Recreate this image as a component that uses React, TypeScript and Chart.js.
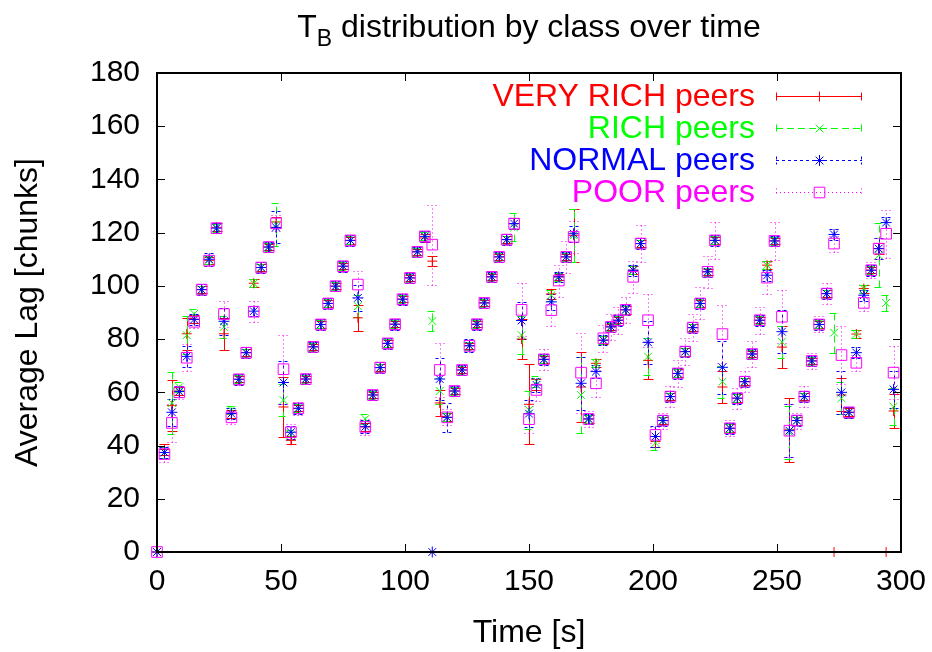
import React, { useEffect, useRef } from "react";
import { Chart, registerables } from "chart.js";

Chart.register(...registerables);

const FONT = '"Liberation Sans", Arial, Helvetica, sans-serif';

// Time axis (s)
const times = [0,3,6,9,12,15,18,21,24,27,30,33,36,39,42,45,48,51,54,57,60,63,66,69,72,75,78,81,84,87,90,93,96,99,102,105,108,111,114,117,120,123,126,129,132,135,138,141,144,147,150,153,156,159,162,165,168,171,174,177,180,183,186,189,192,195,198,201,204,207,210,213,216,219,222,225,228,231,234,237,240,243,246,249,252,255,258,261,264,267,270,273,276,279,282,285,288,291,294,297];

// Average lag per class
const veryRich = [
  0, 38.5, 55, 60.5, 82, 87.5, 98.6, 109.6, 122, 82,
  52, 64.9, 74.9, 101, 106.9, 114.6, 124, 54.5, 42, 54,
  65, 77.1, 85.5, 93.4, 99.9, 107.4, 117.1, 88, 47, 59,
  69.3, 78.4, 85.6, 95, 103, 112.8, 118, 109.3, 56, 50.6,
  60.5, 68.4, 77.5, 85.6, 93.6, 103.4, 110.9, 117.4, 123.4, 80,
  55.5, 63, 72.4, 97, 103.4, 110.9, 119, 62, 50, 70.9,
  79.6, 84.6, 87.1, 91, 105.9, 115.9, 72, 41.5, 49.4, 58.4,
  67.1, 75.3, 84.3, 93.4, 105.3, 117.1, 62, 46.5, 57.8, 64,
  74.4, 87.1, 107.8, 116.9, 77, 45.9, 49.4, 58.4, 71.8, 85.5,
  97.1, 0, 59, 52.5, 81.9, 99, 105.9, 114, 0, 53,
];
const rich = [
  0, 37.5, 56, 62, 81.5, 89.5, 98.6, 109.8, 121.7, 84.6,
  53.4, 64.9, 74.9, 101, 106.9, 114.6, 123, 57.1, 44, 54,
  65, 77.1, 85.5, 93.4, 99.9, 107.4, 117.1, 92.4, 50, 59,
  69.3, 78.4, 85.6, 95, 103, 112.8, 118.6, 86.8, 60.5, 50.6,
  60.5, 68.4, 77.5, 85.6, 93.6, 103.4, 110.9, 117.4, 122, 81.5,
  53.4, 64, 72.4, 96.5, 103.4, 110.9, 119, 59, 50, 70.9,
  79.6, 84.6, 87.1, 91, 105.9, 115.9, 73.4, 41, 49.4, 58.4,
  67.1, 75.3, 84.3, 93.4, 105.3, 117.1, 64, 46.5, 57.8, 64,
  74.4, 87.1, 107.8, 116.9, 79, 45, 49.4, 58.4, 71.8, 85.5,
  97.1, 82.4, 57.8, 52.5, 81.9, 99, 105.9, 111.5, 93.6, 54.6,
];
const normal = [
  0, 37.4, 52.5, 60.3, 73.5, 87.4, 98.6, 110, 121.7, 86.7,
  52, 64.9, 74.9, 90.5, 106.9, 114.6, 122, 63.7, 45, 54,
  65, 77.1, 85.5, 93.4, 99.9, 107.4, 117.1, 95.5, 47.1, 59,
  69.3, 78.4, 85.6, 95, 103, 112.8, 118.6, 0, 65, 50.6,
  60.5, 68.4, 77.5, 85.6, 93.6, 103.4, 110.9, 117.4, 123.4, 87,
  52, 62.8, 72.4, 94, 103.4, 110.9, 119.6, 63.4, 50, 67.8,
  79.6, 84.6, 87.1, 91, 105.9, 115.9, 78.8, 43.4, 49.4, 58.4,
  67.1, 75.3, 84.3, 93.4, 105.3, 117.1, 69.4, 46.5, 57.8, 64,
  74.4, 87.1, 104, 116.9, 82.8, 45.6, 49.4, 58.4, 71.8, 85.5,
  97.1, 119.3, 60, 52.5, 74.9, 96.5, 105.9, 114, 123.8, 61.1,
];
const poor = [
  0, 36.8, 48.5, 60, 73, 86.5, 98.6, 109.5, 121.7, 89.4,
  50.6, 64.9, 74.9, 90.3, 106.9, 114.6, 123.5, 68.7, 45, 54,
  65, 77.1, 85.5, 93.4, 99.9, 107.4, 117.1, 100.5, 47, 59,
  69.3, 78.4, 85.6, 95, 103, 112.8, 118.6, 115.5, 68.4, 50.6,
  60.5, 68.4, 77.5, 85.6, 93.6, 103.4, 110.9, 117.4, 123.4, 91,
  49.9, 60.9, 72.4, 90.9, 102, 110.9, 118.4, 67.4, 50, 63.4,
  80.3, 84.6, 87.1, 91, 103.4, 115.9, 87.1, 44, 49.4, 58.4,
  67.1, 75.3, 84.3, 93.4, 105.3, 117.1, 81.9, 46.5, 57.8, 64,
  74.4, 87.1, 103.1, 116.9, 88.4, 45.6, 49.4, 58.4, 71.8, 85.5,
  97.1, 115.9, 74, 52.5, 71.1, 93.6, 105.9, 114, 119.6, 67.4,
];

// Error bar half-widths per class
const veryRichErr = [
  0, 2, 9.7, 1.5, 6, 1.5, 1.2, 1.2, 1.5, 6,
  1.5, 1.2, 1.2, 1.5, 1.2, 1.2, 2, 11.4, 1.5, 1.2,
  1.2, 1.2, 1.2, 1.2, 1.2, 1.2, 1.2, 5, 1.5, 1.2,
  1.2, 1.2, 1.2, 1.2, 1.2, 1.2, 1.5, 2, 5, 1.5,
  1.2, 1.2, 1.2, 1.2, 1.2, 1.2, 1.2, 1.2, 2, 7.6,
  15, 2, 1.2, 2, 1.2, 1.2, 10, 13, 1.5, 1.5,
  1.5, 1.2, 1.2, 1.5, 1.5, 1.2, 7, 2, 1.2, 1.2,
  1.5, 1.5, 1.2, 1.2, 1.2, 1.2, 6, 1.5, 1.5, 1.2,
  1.2, 1.2, 1.5, 1.2, 7.8, 11.9, 1.5, 1.2, 1.2, 1.2,
  1.2, 0, 6.2, 1.5, 1.5, 1.5, 1.2, 2, 0, 6.5,
];
const richErr = [
  0, 2, 11.5, 2, 7, 2, 1.5, 1.5, 1.5, 4,
  1.5, 1.5, 1.5, 1.5, 1.5, 1.5, 8, 6, 2, 1.5,
  1.5, 1.5, 1.5, 1.5, 1.5, 1.5, 1.5, 4, 2, 1.5,
  1.5, 1.5, 1.5, 1.5, 1.5, 1.5, 1.5, 3.6, 5, 1.5,
  1.5, 1.5, 1.5, 1.5, 1.5, 1.5, 1.5, 1.5, 5.3, 7,
  7, 2, 1.5, 2, 1.5, 1.5, 10, 14.4, 1.5, 1.5,
  1.5, 1.5, 1.5, 1.5, 1.5, 1.5, 7, 2.5, 1.5, 1.5,
  1.5, 1.5, 1.5, 1.5, 1.5, 1.5, 6, 1.5, 1.5, 1.5,
  1.5, 1.5, 1.5, 1.5, 6, 10, 1.5, 1.5, 1.5, 1.5,
  1.5, 7.6, 6, 2, 1.5, 1.5, 1.5, 12, 3, 7,
];
const normalErr = [
  0, 2, 5, 2, 4, 2, 2, 2.5, 2, 5,
  2, 2, 2, 2, 2, 2, 6, 8, 2.5, 2,
  2, 2, 2, 2, 2, 2, 2, 5, 2.5, 2,
  2, 2, 2, 2, 2, 2, 2, 0, 8, 5.5,
  2, 2, 2.5, 2, 2, 2, 2, 2, 2, 7,
  5, 2.5, 2, 3, 2, 2, 3, 10, 2, 2.5,
  2, 2, 2, 2, 2, 2, 8, 4, 2, 2,
  2, 2, 2, 2, 2, 2, 10, 2, 2, 2,
  2, 2, 2, 2, 8, 10, 2, 2, 2, 2,
  2, 2, 8, 2, 2, 2, 2, 4, 2, 7,
];
const poorErr = [
  0, 3, 7, 2.5, 5, 2.5, 2, 2, 2, 5,
  2.5, 2, 2, 4, 2, 2, 3, 13, 3, 2.5,
  2, 2, 2, 2, 2, 2, 2, 5, 3, 2,
  2, 2, 2, 2, 2, 2, 2, 15, 10, 3,
  2, 2, 2, 2, 2, 2, 2, 2, 2, 10,
  5, 4, 4, 6, 6, 6, 6, 15, 3, 5,
  5, 5, 5, 5, 6, 7, 10, 3, 3, 4,
  5, 5, 5, 6, 6, 7, 11, 3, 4, 4,
  5, 5, 6, 7, 10, 10, 3, 4, 3, 3,
  4, 3, 11, 2, 3, 3, 3, 4, 9, 10,
];

const xTicks = [0, 50, 100, 150, 200, 250, 300];
const yTicks = [0, 20, 40, 60, 80, 100, 120, 140, 160, 180];

const seriesNames = ["VERY RICH peers", "RICH peers", "NORMAL peers", "POOR peers"];
const seriesColors = ["#ff0000", "#00ff00", "#0000ff", "#ff00ff"];
const seriesValues = [veryRich, rich, normal, poor];
const seriesErrors = [veryRichErr, richErr, normalErr, poorErr];
const seriesMarkers = ["cross", "crossRot", "star", "rect"];
const seriesDashes = [[], [7, 4], [3, 3], [1, 3]];
const seriesRadius = [5, 5.5, 5.5, 7.5];

const titleMain = "T";
const titleSub = "B";
const titleRest = " distribution by class over time";
const xTitle = "Time [s]";
const yTitle = "Average Lag [chunks]";

function drawMarker(ctx: CanvasRenderingContext2D, style: string, x: number, y: number, r: number) {
  ctx.beginPath();
  if (style === "cross" || style === "star") {
    ctx.moveTo(x - r, y); ctx.lineTo(x + r, y);
    ctx.moveTo(x, y - r); ctx.lineTo(x, y + r);
  }
  if (style === "crossRot" || style === "star") {
    const d = r * Math.SQRT1_2;
    ctx.moveTo(x - d, y - d); ctx.lineTo(x + d, y + d);
    ctx.moveTo(x - d, y + d); ctx.lineTo(x + d, y - d);
  }
  if (style === "rect") {
    const s = r * Math.SQRT1_2;
    ctx.rect(x - s, y - s, 2 * s, 2 * s);
  }
  ctx.stroke();
}

const errorBarPlugin = {
  id: "errorBars",
  beforeDatasetsDraw(chart: any) {
    const ctx: CanvasRenderingContext2D = chart.ctx;
    const xs = chart.scales.x;
    const ys = chart.scales.y;
    ctx.save();
    ctx.lineWidth = 1;
    seriesValues.forEach((vals, k) => {
      const errs = seriesErrors[k];
      ctx.strokeStyle = seriesColors[k];
      ctx.setLineDash(seriesDashes[k]);
      times.forEach((t, i) => {
        const e = errs[i];
        if (!e) return;
        const x = Math.round(xs.getPixelForValue(t)) + 0.5;
        const yLo = Math.round(ys.getPixelForValue(vals[i] - e)) + 0.5;
        const yHi = Math.round(ys.getPixelForValue(vals[i] + e)) + 0.5;
        ctx.beginPath();
        ctx.moveTo(x, yLo); ctx.lineTo(x, yHi);
        ctx.moveTo(x - 5, yLo); ctx.lineTo(x + 5, yLo);
        ctx.moveTo(x - 5, yHi); ctx.lineTo(x + 5, yHi);
        ctx.stroke();
      });
    });
    ctx.restore();
  },
};

const framePlugin = {
  id: "frame",
  afterDraw(chart: any) {
    const ctx: CanvasRenderingContext2D = chart.ctx;
    const a = chart.chartArea;
    const xs = chart.scales.x;
    const ys = chart.scales.y;
    ctx.save();
    ctx.strokeStyle = "#000";
    ctx.lineWidth = 2;
    ctx.setLineDash([]);
    ctx.strokeRect(a.left, a.top, a.right - a.left, a.bottom - a.top);
    ctx.lineWidth = 1;
    ctx.beginPath();
    xTicks.forEach((v) => {
      const x = Math.round(xs.getPixelForValue(v)) + 0.5;
      ctx.moveTo(x, a.bottom); ctx.lineTo(x, a.bottom - 8);
      ctx.moveTo(x, a.top); ctx.lineTo(x, a.top + 8);
    });
    yTicks.forEach((v) => {
      const y = Math.round(ys.getPixelForValue(v)) + 0.5;
      ctx.moveTo(a.left, y); ctx.lineTo(a.left + 8, y);
      ctx.moveTo(a.right, y); ctx.lineTo(a.right - 8, y);
    });
    ctx.stroke();

    // Title with subscript
    ctx.fillStyle = "#000";
    ctx.textBaseline = "alphabetic";
    ctx.textAlign = "left";
    const big = `32px ${FONT}`;
    const small = `23px ${FONT}`;
    ctx.font = big;
    const wT = ctx.measureText(titleMain).width;
    const wR = ctx.measureText(titleRest).width;
    ctx.font = small;
    const wB = ctx.measureText(titleSub).width;
    const cx = (a.left + a.right) / 2;
    let tx = cx - (wT + wB + wR) / 2;
    ctx.font = big;
    ctx.fillText(titleMain, tx, 37);
    tx += wT;
    ctx.font = small;
    ctx.fillText(titleSub, tx, 46);
    tx += wB;
    ctx.font = big;
    ctx.fillText(titleRest, tx, 37);

    // Axis titles
    ctx.textAlign = "center";
    ctx.textBaseline = "middle";
    ctx.font = big;
    ctx.fillText(xTitle, cx, 633);
    ctx.save();
    ctx.translate(28, (a.top + a.bottom) / 2);
    ctx.rotate(-Math.PI / 2);
    ctx.fillText(yTitle, 0, 0);
    ctx.restore();

    // Legend
    const rowY = [96, 128, 160, 192];
    seriesNames.forEach((name, k) => {
      const y = rowY[k];
      ctx.fillStyle = seriesColors[k];
      ctx.strokeStyle = seriesColors[k];
      ctx.font = big;
      ctx.textAlign = "right";
      ctx.textBaseline = "middle";
      ctx.fillText(name, 755, y + 1);
      const yy = y + 0.5;
      ctx.lineWidth = 1;
      ctx.setLineDash(seriesDashes[k]);
      ctx.beginPath();
      ctx.moveTo(776, yy); ctx.lineTo(862, yy);
      ctx.moveTo(776.5, yy - 4); ctx.lineTo(776.5, yy + 4);
      ctx.moveTo(861.5, yy - 4); ctx.lineTo(861.5, yy + 4);
      ctx.stroke();
      ctx.setLineDash([]);
      drawMarker(ctx, seriesMarkers[k], 819.5, yy, seriesRadius[k]);
    });
    ctx.restore();
  },
};

export default function App() {
  const canvasRef = useRef<HTMLCanvasElement | null>(null);

  useEffect(() => {
    document.body.style.margin = "0";
    const canvas = canvasRef.current;
    if (!canvas) return;
    const chart = new Chart(canvas, {
      type: "scatter",
      data: {
        datasets: seriesValues.map((vals, k) => ({
          label: seriesNames[k],
          data: times.map((t, i) => ({ x: t, y: vals[i] })),
          pointStyle: seriesMarkers[k] as any,
          pointRadius: seriesRadius[k],
          pointHoverRadius: seriesRadius[k],
          borderColor: seriesColors[k],
          backgroundColor: "rgba(0,0,0,0)",
          pointBorderWidth: 1,
          showLine: false,
          clip: false as any,
          order: 4 - k,
        })),
      },
      options: {
        animation: false,
        responsive: false,
        devicePixelRatio: 1,
        events: [],
        layout: { padding: { top: 73, right: 31, left: 0, bottom: 0 } },
        plugins: {
          legend: { display: false },
          tooltip: { enabled: false },
          title: { display: false },
        },
        scales: {
          x: {
            type: "linear",
            min: 0,
            max: 300,
            afterBuildTicks: (s: any) => {
              s.ticks = xTicks.map((v) => ({ value: v }));
            },
            grid: { display: false, drawTicks: false },
            border: { display: false },
            ticks: {
              color: "#000",
              font: { family: FONT, size: 30 },
              padding: 12,
              maxRotation: 0,
              autoSkip: false,
            },
            afterFit: (s: any) => {
              s.height = 100;
              s.paddingLeft = 0;
              s.paddingRight = 0;
            },
          },
          y: {
            type: "linear",
            min: 0,
            max: 180,
            afterBuildTicks: (s: any) => {
              s.ticks = yTicks.map((v) => ({ value: v }));
            },
            grid: { display: false, drawTicks: false },
            border: { display: false },
            ticks: {
              color: "#000",
              font: { family: FONT, size: 30 },
              padding: 17,
              autoSkip: false,
            },
            afterFit: (s: any) => {
              s.width = 157;
              s.paddingTop = 0;
              s.paddingBottom = 0;
            },
          },
        },
      },
      plugins: [errorBarPlugin, framePlugin],
    });
    return () => chart.destroy();
  }, []);

  return (
    <div style={{ position: "absolute", left: 0, top: 0, width: 932, height: 652, background: "#fff" }}>
      <canvas ref={canvasRef} width={932} height={652} />
    </div>
  );
}
